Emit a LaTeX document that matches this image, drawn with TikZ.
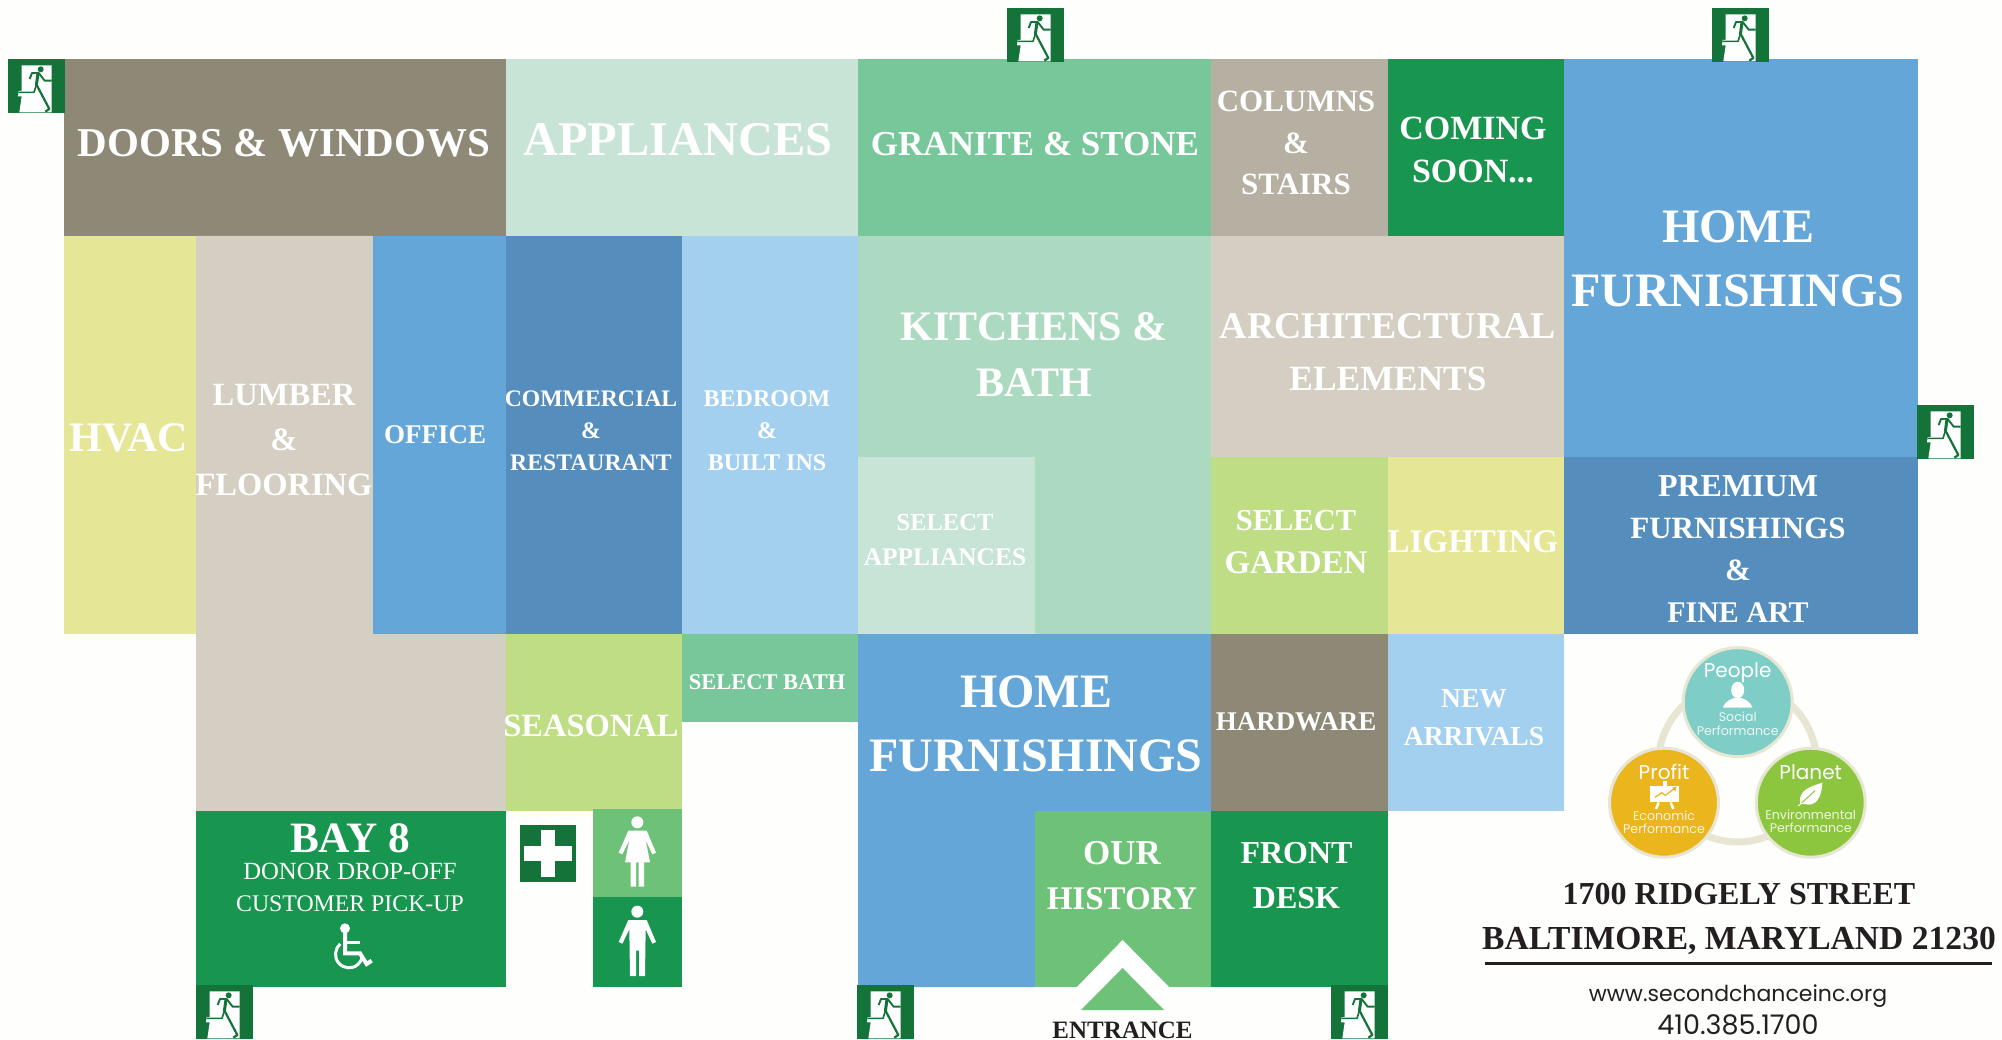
\documentclass[tikz,border=0pt]{standalone}
\usepackage{fontspec}
\usepackage{graphicx}
\setmainfont{Liberation Serif}
\newfontfamily\geofont{Poppins}
\definecolor{cbg}{HTML}{FEFEFD}
\definecolor{cdoors}{HTML}{8D8976}
\definecolor{cappl}{HTML}{C8E4D6}
\definecolor{cgran}{HTML}{78C79A}
\definecolor{ccol}{HTML}{B6B0A3}
\definecolor{cgreen}{HTML}{18964F}
\definecolor{cblue}{HTML}{65A6D9}
\definecolor{chvac}{HTML}{E5E696}
\definecolor{csand}{HTML}{D5CEC2}
\definecolor{cdeep}{HTML}{558DBD}
\definecolor{csky}{HTML}{A4D0EF}
\definecolor{ckit}{HTML}{ACDAC1}
\definecolor{clime}{HTML}{BFDD84}
\definecolor{chist}{HTML}{6EC278}
\definecolor{cexit}{HTML}{137339}
\definecolor{cring}{HTML}{E6E6D3}
\definecolor{cteal}{HTML}{7ECDC6}
\definecolor{cgold}{HTML}{EBB51E}
\definecolor{cleaf}{HTML}{8CC63F}
\definecolor{cink}{HTML}{231F20}
\newcommand{\roomfill}[5]{\fill[#5] (#1,#2) rectangle (#3,#4);}
\newcommand{\roomlabel}[6]{\node[roomtext,yshift=-1.3pt,font=\bfseries\fontsize{#4}{#5}\selectfont] (#1) at (#2,#3) {#6};}
\newcommand{\fsz}[1]{\fontsize{#1}{#1}\selectfont}
\tikzset{
  roomtext/.style={text=white,inner sep=0pt,align=center},
  inktext/.style={text=cink,inner sep=0pt,align=center},
  exitsign/.pic={
    \begin{scope}[scale=1/3]
      \fill[cexit] (0,0) rectangle (171,162);
      \fill[white] (41,19) -- (131,19) -- (131,160) -- (34,160) -- (41,112) -- (30,112) -- (32,96) -- (41,96) -- cycle;
      \fill[cexit] (98,31) circle (9);
      \draw[cexit,line width=1.9pt,line join=round] (65,60) -- (72,42) -- (92,42) -- (110,65) -- (131,65);
      \draw[cexit,line width=3pt] (90,42) -- (85,80);
      \draw[cexit,line width=1.6pt,line join=round] (85,78) -- (78,100) -- (32,100);
      \draw[cexit,line width=2.2pt,line join=round] (86,78) -- (124,150) -- (112,158);
    \end{scope}
  }
}
\begin{document}
\begin{tikzpicture}[x=1pt,y=-1pt]
\useasboundingbox (0,0) rectangle (2002,1040);
\fill[cbg] (0,0) rectangle (2002,1040);
% top row
\roomfill{64}{59}{506}{236}{cdoors}
\roomfill{506}{59}{858}{236}{cappl}
\roomfill{858}{59}{1211}{236}{cgran}
\roomfill{1211}{59}{1388}{236}{ccol}
\roomfill{1388}{59}{1564}{236}{cgreen}
\roomfill{1564}{59}{1918}{457}{cblue}
% middle rows
\roomfill{64}{236}{196}{634}{chvac}
\fill[csand] (196,236) -- (373,236) -- (373,634) -- (506,634) -- (506,811) -- (196,811) -- cycle;
\roomfill{373}{236}{506}{634}{cblue}
\roomfill{506}{236}{682}{634}{cdeep}
\roomfill{682}{236}{858}{634}{csky}
\roomfill{858}{236}{1211}{634}{ckit}
\roomfill{858}{457}{1035}{634}{cappl}
\roomfill{1211}{236}{1564}{457}{csand}
\roomfill{1211}{457}{1388}{634}{clime}
\roomfill{1388}{457}{1564}{634}{chvac}
\roomfill{1564}{457}{1918}{634}{cdeep}
% lower rows
\roomfill{506}{634}{682}{811}{clime}
\roomfill{682}{634}{858}{722}{cgran}
\fill[cblue] (858,634) -- (1211,634) -- (1211,811) -- (1035,811) -- (1035,987) -- (858,987) -- cycle;
\roomfill{1211}{634}{1388}{811}{cdoors}
\roomfill{1388}{634}{1564}{811}{csky}
\roomfill{196}{811}{506}{987}{cgreen}
\roomfill{593}{809}{682}{897}{chist}
\roomfill{593}{897}{682}{987}{cgreen}
\roomfill{1035}{811}{1211}{987}{chist}
\roomfill{1211}{811}{1388}{987}{cgreen}
% entrance
\fill[white] (1076,988) -- (1122.6,940) -- (1170,988) -- cycle;
\fill[chist] (1122.6,968) -- (1164,1010) -- (1081,1010) -- cycle;
% labels
\roomlabel{doors}{284}{142}{41}{48}{DOORS \& WINDOWS}
\roomlabel{appl}{678}{138}{48.4}{56}{APPLIANCES}
\roomlabel{granite}{1035}{143}{35}{42}{GRANITE \& STONE}
\roomlabel{columns}{1296}{142}{31}{41.5}{COLUMNS\\\&\\STAIRS}
\roomlabel{coming}{1473}{149}{34}{43}{COMING\\SOON...}
\roomlabel{homeA}{1738}{258}{48}{64}{HOME\\FURNISHINGS}
\roomlabel{hvac}{129}{437}{42}{48}{HVAC}
\roomlabel{lumber}{284}{439}{32.5}{45}{LUMBER\\\&\\FLOORING}
\roomlabel{office}{435}{433}{27}{32}{OFFICE}
\roomlabel{commercial}{591}{429}{23.7}{32}{COMMERCIAL\\\&\\RESTAURANT}
\roomlabel{bedroom}{767}{429}{24}{32}{BEDROOM\\\&\\BUILT INS}
\roomlabel{kitchens}{1034}{353}{42}{56}{KITCHENS \&\\BATH}
\roomlabel{arch}{1388}{351}{37.8}{52}{ARCHITECTURAL\\{\fsz{35.5}ELEMENTS}}
\roomlabel{selappl}{945}{539}{25.4}{35}{{\fsz{24.5}SELECT}\\APPLIANCES}
\roomlabel{selgarden}{1296}{541}{33}{43}{{\fsz{30.5}SELECT}\\GARDEN}
\roomlabel{lighting}{1473}{540}{33}{38}{LIGHTING}
\roomlabel{premium}{1738}{548}{31}{42}{{\fsz{32}PREMIUM}\\FURNISHINGS\\\&\\{\fsz{30}FINE ART}}
\roomlabel{seasonal}{591}{724.5}{32.5}{38}{SEASONAL}
\roomlabel{selbath}{767}{680.5}{22.5}{28}{SELECT BATH}
\roomlabel{homeB}{1036}{723}{48}{64}{HOME\\FURNISHINGS}
\roomlabel{hardware}{1296}{720.5}{27}{32}{HARDWARE}
\roomlabel{arrivals}{1474}{716}{27.5}{38}{NEW\\ARRIVALS}
\node[roomtext,font=\bfseries\fontsize{43.3}{48}\selectfont] (bay) at (350,838) {BAY 8};
\node[roomtext,font=\fontsize{24.7}{32}\selectfont] (dropoff) at (350,887.5) {DONOR DROP-OFF\\{\fsz{23.8}CUSTOMER PICK-UP}};
\node[roomtext,font=\bfseries\fontsize{33}{45}\selectfont] (history) at (1122,876) {{\fsz{35}OUR}\\HISTORY};
\node[roomtext,font=\bfseries\fontsize{32}{45}\selectfont] (desk) at (1296.5,876) {FRONT\\DESK};
\node[inktext,font=\bfseries\fontsize{25}{30}\selectfont] (entrance) at (1122.5,1030) {ENTRANCE};
% address
\node[inktext,font=\bfseries\fontsize{33.6}{45}\selectfont] (addr) at (1739,919) {{\fsz{32}1700 RIDGELY STREET}\\BALTIMORE, MARYLAND 21230};
\draw[cink,line width=2.5pt] (1485,963.5) -- (1992,963.5);
\node[inktext,font=\geofont\fontsize{22}{22}\selectfont] (web) at (1738,996.5) {www.secondchanceinc.org};
\node[inktext,font=\geofont\fontsize{27}{27}\selectfont] (phone) at (1738,1024.5) {410.385.1700};
% exits
\pic at (8,59) {exitsign};
\pic at (1007,8) {exitsign};
\pic at (1712,8) {exitsign};
\pic at (1917,405) {exitsign};
\pic at (196,985) {exitsign};
\pic at (857,985) {exitsign};
\pic at (1331,985) {exitsign};
% bay 8 icons, first aid, restrooms
\begin{scope}[shift={(180,790)},x=1/3*1pt,y=-1/3*1pt]
  \fill[white] (495,415) circle (5pt);
  \draw[white,line width=4pt] (495,425) -- (495,490) -- (540,490) -- (560,522) -- (575,512);
  \draw[white,line width=3pt] (495,457) -- (540,457);
  \draw[white,line width=3pt] (481,462) arc[start angle=130,end angle=350,radius=13.5pt];
  \fill[cexit] (1020,105) rectangle (1188,275);
  \fill[white] (1033,168) rectangle (1175,212);
  \fill[white] (1083,120) rectangle (1125,262);
  % female
  \fill[white] (1372,97) circle (6pt);
  \fill[white] (1345,122) -- (1400,122) -- (1428,188) -- (1417,193) -- (1397,150) -- (1410,217) -- (1392,217) -- (1392,290) -- (1376,290) -- (1376,217) -- (1368,217) -- (1368,290) -- (1352,290) -- (1352,217) -- (1335,217) -- (1348,150) -- (1327,193) -- (1316,188) -- cycle;
  % male
  \fill[white] (1372,365) circle (6pt);
  \fill[white] (1345,390) -- (1400,390) -- (1428,456) -- (1417,461) -- (1397,418) -- (1395,558) -- (1377,558) -- (1377,482) -- (1368,482) -- (1368,558) -- (1350,558) -- (1348,418) -- (1327,461) -- (1316,456) -- cycle;
\end{scope}
% triple bottom line
\draw[cring,line width=7pt] (1737.5,763) circle (79);
\fill[cteal,draw=cring,line width=3pt] (1737.7,702.2) circle (54.5);
\fill[cgold,draw=cring,line width=3pt] (1664,802.7) circle (54.5);
\fill[cleaf,draw=cring,line width=3pt] (1810.7,802.7) circle (54.5);
\node[roomtext,font=\geofont\fontsize{20}{22}\selectfont] (people) at (1737.7,673) {People};
\node[roomtext,font=\geofont\fontsize{20}{22}\selectfont] (profit) at (1664,772) {Profit};
\node[roomtext,font=\geofont\fontsize{20}{22}\selectfont] (planet) at (1810.7,772) {Planet};
\node[roomtext,font=\geofont\fontsize{12.6}{13.4}\selectfont,text=white!85!cteal] (social) at (1737.7,723.8) {Social\\Performance};
\node[roomtext,font=\geofont\fontsize{12.6}{13.4}\selectfont,text=white!85!cgold] (economic) at (1664,822.2) {Economic\\Performance};
\node[roomtext,font=\geofont\fontsize{12.6}{13.4}\selectfont,text=white!85!cleaf] (environ) at (1810.7,821.5) {Environmental\\Performance};
\begin{scope}[shift={(1550,620)},x=1/3*1pt,y=-1/3*1pt]
  \fill[white] (563,210) ellipse (6.5pt and 8.3pt);
  \fill[white] (519,263) .. controls (525,242) and (545,235) .. (563,232) .. controls (582,235) and (600,242) .. (607,263) -- cycle;
  \fill[white] (300,497) rectangle (387,547);
  \fill[white] (338,483) rectangle (350,497);
  \draw[white,line width=2.5pt] (326,547) -- (318,567);
  \draw[white,line width=2.5pt] (362,547) -- (370,567);
  \draw[cgold,line width=1.2pt] (315,532) -- (335,518) -- (346,526) -- (374,505);
  \fill[cgold] (380,500) -- (366,503) -- (376,514) -- cycle;
  \fill[white] (750,550) .. controls (745,510) and (780,500) .. (817,488) .. controls (815,530) and (800,562) .. (762,552) -- cycle;
  \draw[white,line width=1pt] (745,558) -- (755,549);
  \draw[cleaf,line width=1pt] (755,549) -- (795,512);
\end{scope}
\end{tikzpicture}
\end{document}
